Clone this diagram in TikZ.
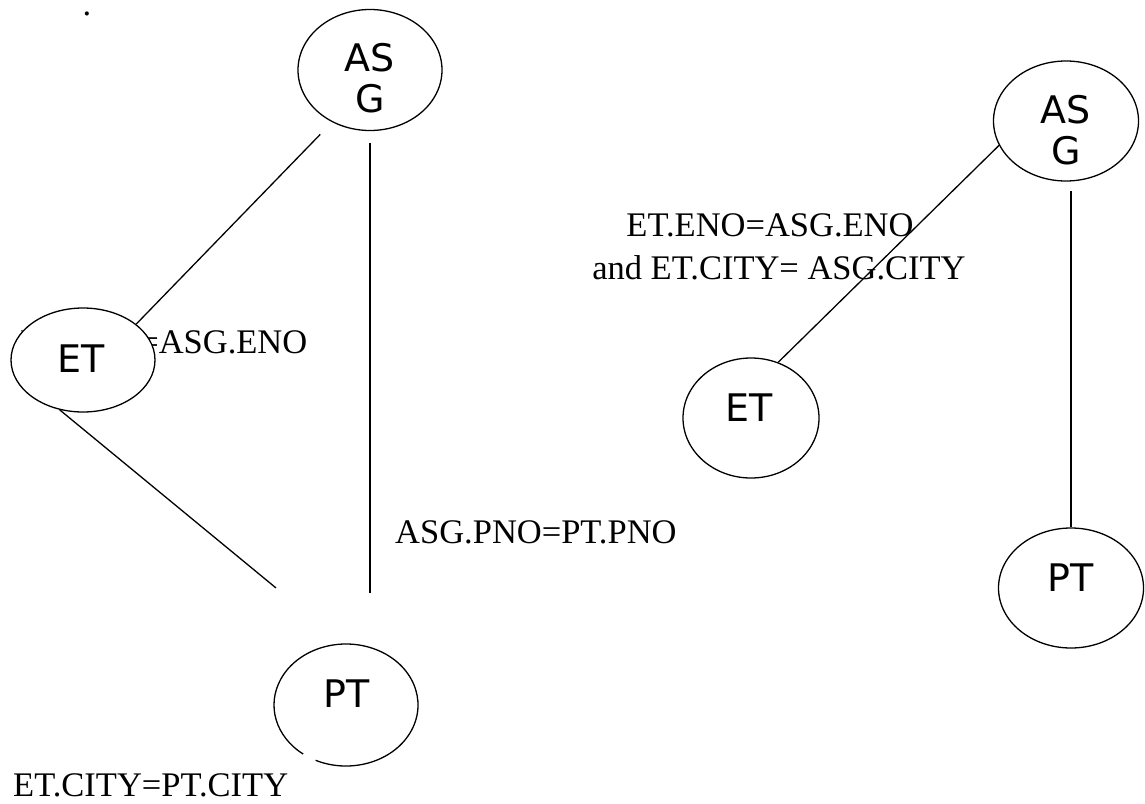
\documentclass[tikz,border=0pt]{standalone}
\usepackage{fontspec}
\usetikzlibrary{shapes.geometric}
\setmainfont{Liberation Serif}
\newfontfamily\bubblefont{DejaVu Sans}
\begin{document}
\begin{tikzpicture}[x=1pt,y=-1pt,
  relation/.style={ellipse, draw, line width=1.3pt, fill=white, inner sep=0pt},
  reltext/.style={font=\bubblefont\fontsize{38}{41}\selectfont, inner sep=0pt, align=center},
  cond/.style={font=\fontsize{34.5}{43}\selectfont, inner sep=0pt, align=center},
  edge/.style={line width=1.3pt}]
\useasboundingbox (0,0) rectangle (1145,803);

% stray full stop in the corner
\node[cond, anchor=base] (dot) at (87,16) {.};

% ---------- left query graph ----------
\node[cond, anchor=base west] (condL1) at (20,353) {ET.ENO=ASG.ENO};
\node[cond, anchor=base west] (condL2) at (395,543) {ASG.PNO=PT.PNO};
\node[cond, anchor=base west] (condL3) at (13,796) {ET.CITY=PT.CITY};

\node[relation, minimum width=144pt, minimum height=121pt] (asgL) at (370,70) {};
\node[relation, minimum width=144pt, minimum height=104pt] (etL) at (83,360) {};
\node[ellipse, inner sep=0pt, minimum width=144pt, minimum height=122pt] (ptL) at (346,705) {};
% PT outline with its small break at the lower left
\draw[edge] (ptL.center) ++(245:72pt and 61pt)
  arc[start angle=245, end angle=593.5, x radius=72pt, y radius=61pt];

\node[reltext] (asgLt) at (370,78) {AS\\G};
\node[reltext, anchor=base] (etLt) at (81,372) {ET};
\node[reltext, anchor=base] (ptLt) at (347,707) {PT};

\draw[edge, shorten <=17pt] (asgL.234) -- (etL.34.5);
\draw[edge, shorten <=12pt, shorten >=51pt] (asgL.south) -- (asgL.south |- ptL.north);
\draw[edge, shorten >=88pt] (etL.245) -- (ptL.92.8);

% ---------- right query graph ----------
\node[cond] (condR) at (779,247) {ET.ENO=ASG.ENO\hspace*{18pt}\\and ET.CITY= ASG.CITY};

\node[relation, minimum width=145pt, minimum height=120pt] (asgR) at (1066,121) {};
\node[relation, minimum width=136pt, minimum height=120pt] (etR) at (751,418) {};
\node[relation, minimum width=145pt, minimum height=120pt] (ptR) at (1071,588) {};

\node[reltext] (asgRt) at (1066,130) {AS\\G};
\node[reltext, anchor=base] (etRt) at (749,421) {ET};
\node[reltext, anchor=base] (ptRt) at (1071,591) {PT};

\draw[edge] (asgR.200) -- (etR.64);
\draw[edge, shorten >=9pt] (ptR.north) -- (ptR.north |- asgR.south);
\end{tikzpicture}
\end{document}
